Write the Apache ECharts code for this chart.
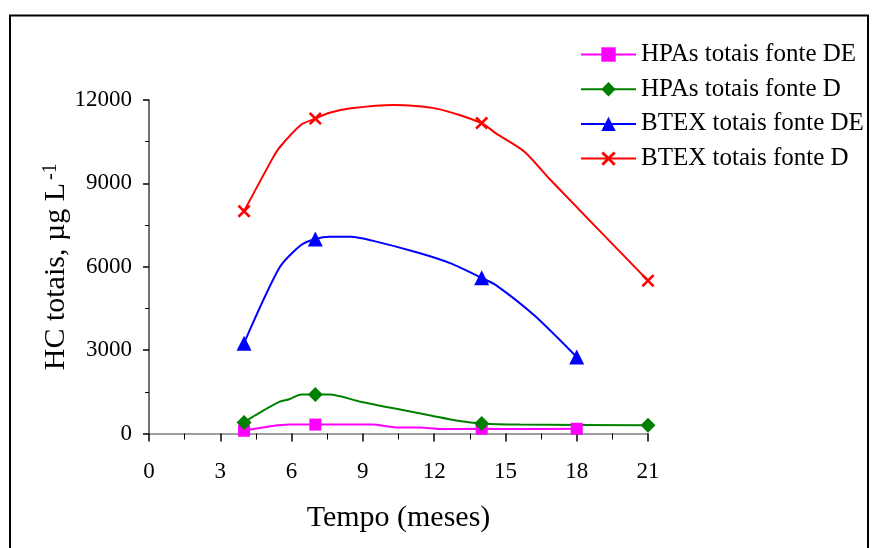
<!DOCTYPE html>
<html>
<head>
<meta charset="utf-8">
<script src="https://cdn.jsdelivr.net/npm/echarts@6/dist/echarts.min.js"></script>
<style>html,body{margin:0;padding:0;background:#fff}#c{width:872px;height:548px}</style>
</head>
<body>
<div id="c"></div>
<script>
// Series names
const seriesNames = ['HPAs totais fonte DE', 'HPAs totais fonte D', 'BTEX totais fonte DE', 'BTEX totais fonte D'];
// Measured points (markers): months and values
const hpaDE_x = [4, 7, 14, 18];
const hpaDE_y = [100, 320, 170, 170];
const hpaD_x = [4, 7, 14, 21];
const hpaD_y = [400, 1400, 360, 300];
const btexDE_x = [4, 7, 14, 18];
const btexDE_y = [3250, 7000, 5600, 2750];
const btexD_x = [4, 7, 14, 21];
const btexD_y = [8000, 11330, 11170, 5500];
// Vertices of the drawn curves between markers
const hpaDE_curve = [[5.9, 320], [9.4, 320], [10.4, 220], [11.4, 220], [12.3, 160], [15.6, 160]];
const hpaD_curve = [[4.5, 670], [5.5, 1145], [5.9, 1230], [6.4, 1400], [7.6, 1400], [8.9, 1145], [10.3, 905], [11.8, 660], [13.0, 460], [15.6, 320]];
const btexDE_curve = [[5.5, 5980], [6.4, 6780], [7.6, 7080], [8.5, 7080], [9.4, 6940], [11.3, 6510], [12.7, 6120], [14.6, 5340], [16.2, 4260]];
const btexD_curve = [[5.2, 9900], [5.5, 10300], [6.4, 11110], [7.6, 11540], [8.5, 11700], [10.3, 11820], [12.1, 11690], [14.6, 10800], [15.8, 10140], [16.9, 9120]];
// Axes ticks
const xMin = 0, xMax = 21, xStep = 3;
const yMin = 0, yMax = 12000, yStep = 3000;

const FONT = "'Liberation Serif','Times New Roman',serif";

function buildData(xs, ys, curve) {
  const pts = xs.map((x, i) => ({ value: [x, ys[i]] }));
  curve.forEach(p => pts.push({ value: p, symbol: 'none' }));
  pts.sort((a, b) => a.value[0] - b.value[0]);
  return pts;
}

const xPath = 'path://M0,1.4L1.4,0L5,3.6L8.6,0L10,1.4L6.4,5L10,8.6L8.6,10L5,6.4L1.4,10L0,8.6L3.6,5Z';

const defs = [
  { name: seriesNames[0], color: '#ff00ff', symbol: 'rect', size: 12, data: buildData(hpaDE_x, hpaDE_y, hpaDE_curve) },
  { name: seriesNames[1], color: '#008000', symbol: 'diamond', size: 15, data: buildData(hpaD_x, hpaD_y, hpaD_curve) },
  { name: seriesNames[2], color: '#0000ff', symbol: 'triangle', size: 15, data: buildData(btexDE_x, btexDE_y, btexDE_curve) },
  { name: seriesNames[3], color: '#ff0000', symbol: xPath, size: 13, data: buildData(btexD_x, btexD_y, btexD_curve) }
];

const chart = echarts.init(document.getElementById('c'), null, { renderer: 'canvas' });
chart.setOption({
  animation: false,
  backgroundColor: '#fff',
  grid: { left: 149, right: 224, top: 100, bottom: 114.5, containLabel: false },
  legend: {
    orient: 'vertical',
    left: 575,
    top: 37,
    itemWidth: 55,
    itemHeight: 18,
    itemGap: 9.7,
    textStyle: { fontFamily: FONT, fontSize: 25, color: '#000', lineHeight: 24 },
    data: seriesNames
  },
  xAxis: {
    type: 'value', min: xMin, max: xMax, interval: xStep,
    name: 'Tempo (meses)', nameLocation: 'middle', nameGap: 70,
    nameTextStyle: { fontFamily: FONT, fontSize: 30, color: '#000' },
    axisLine: { show: true, onZero: false, lineStyle: { color: '#808080', width: 1.5 } },
    axisTick: { show: true, length: 8, lineStyle: { color: '#000', width: 1.5 } },
    minorTick: { show: true, splitNumber: 2, length: 6, lineStyle: { color: '#000', width: 1 } },
    splitLine: { show: false },
    axisLabel: { fontFamily: FONT, fontSize: 23, color: '#000', margin: 27 }
  },
  yAxis: {
    type: 'value', min: yMin, max: yMax, interval: yStep,
    name: '{a|HC totais, µg L}{s|-1}', nameLocation: 'middle', nameGap: 78, nameRotate: 90,
    nameMoveOverlap: false,
    nameTextStyle: {
      fontFamily: FONT, color: '#000',
      rich: {
        a: { fontFamily: FONT, fontSize: 30, color: '#000', lineHeight: 30, verticalAlign: 'bottom' },
        s: { fontFamily: FONT, fontSize: 20, color: '#000', lineHeight: 20, verticalAlign: 'top', padding: [0, 0, 20, 3] }
      }
    },
    axisLine: { show: true, lineStyle: { color: '#404040', width: 1.5 } },
    axisTick: { show: true, length: 6, lineStyle: { color: '#000', width: 1.5 } },
    minorTick: { show: true, splitNumber: 2, length: 4, lineStyle: { color: '#000', width: 1 } },
    splitLine: { show: false },
    axisLabel: { fontFamily: FONT, fontSize: 23, color: '#000', margin: 17, formatter: v => String(v) }
  },
  graphic: [{
    type: 'rect', silent: true,
    shape: { x: 10, y: 15.5, width: 858, height: 545 },
    style: { fill: 'none', stroke: '#000', lineWidth: 2 }
  }],
  series: defs.map(d => ({
    name: d.name, type: 'line', smooth: 0.25,
    symbol: d.symbol, symbolSize: d.size, showAllSymbol: true,
    lineStyle: { color: d.color, width: 2 },
    itemStyle: { color: d.color },
    data: d.data
  }))
});
</script>
</body>
</html>
